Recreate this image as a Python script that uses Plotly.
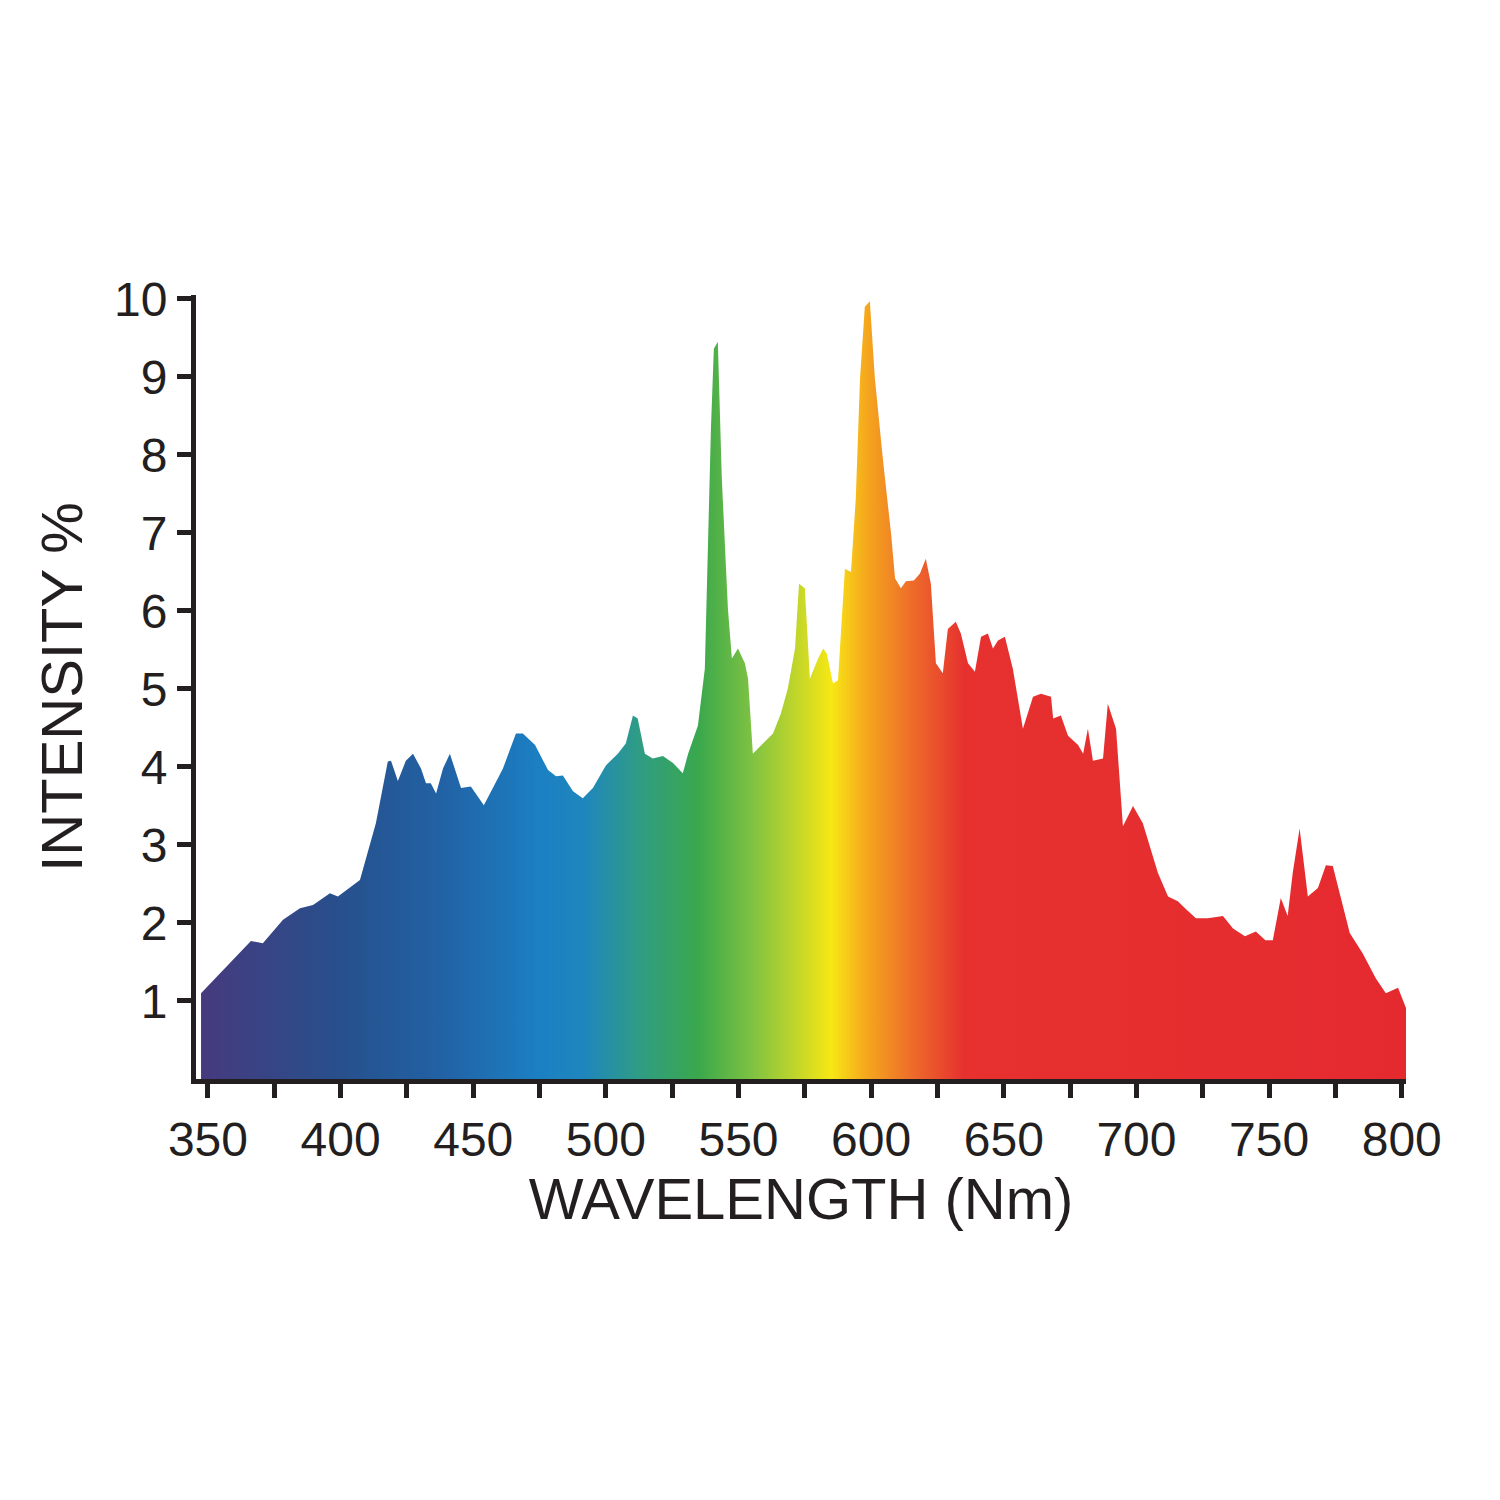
import plotly.graph_objects as go

wavelength = [347.4,366.2,370.7,378.3,384.7,389.6,396,399,407.3,413.3,417.8,419,421.6,424.6,427.3,430.3,432.2,434,436,438.6,441.2,443.1,445.4,449.1,451,454,457.4,461.2,466.1,468.7,473.3,478.2,481.2,483.8,487.6,491.3,495.1,500,504.5,507.5,510.2,512,514.7,517.7,521.5,525.3,529,531,534.7,537.3,539.6,540.7,542.2,543.7,546,547.5,549.8,552.4,553.6,555.4,559.2,563,566,568.6,571.3,572.8,575,576.9,580,581.9,583.3,585.6,587.5,590.1,592.4,594.2,595.8,597.6,599.5,601.4,604.4,607.5,609,611.2,613.1,616.1,618.4,620.6,622.5,624.4,627,628.9,631.9,633.8,636.5,639.1,641.4,644,645.9,647.8,650.4,653.4,657.2,661,664,667.8,668.6,671.5,674.2,678,679.9,681.7,683.6,687.4,689.2,692.3,694.9,698.7,702.4,708.1,711.9,715.6,718.3,722.4,726.9,732.6,736.4,740.9,745,748.6,751.4,754.4,757,758.9,761.5,764.6,768.4,771.4,774,776.6,780.4,785.3,790.2,794,798.6,801.6]
intensity = [1.10,1.77,1.74,2.04,2.19,2.23,2.38,2.34,2.55,3.28,4.07,4.08,3.82,4.08,4.17,3.98,3.79,3.79,3.66,3.98,4.17,3.98,3.73,3.75,3.66,3.51,3.73,3.98,4.43,4.43,4.28,3.96,3.88,3.89,3.69,3.60,3.73,4.02,4.17,4.30,4.66,4.62,4.17,4.11,4.14,4.05,3.92,4.17,4.53,5.26,8.34,9.36,9.45,7.70,6.03,5.39,5.52,5.33,5.13,4.17,4.30,4.43,4.69,5.01,5.52,6.35,6.29,5.13,5.39,5.52,5.45,5.07,5.11,6.54,6.50,7.44,8.98,9.90,9.97,8.98,7.95,6.99,6.42,6.29,6.38,6.39,6.48,6.67,6.35,5.33,5.20,5.77,5.86,5.71,5.33,5.22,5.67,5.71,5.52,5.62,5.67,5.26,4.49,4.90,4.94,4.90,4.62,4.66,4.40,4.28,4.17,4.49,4.08,4.11,4.81,4.49,3.24,3.50,3.28,2.64,2.34,2.28,2.19,2.06,2.06,2.09,1.93,1.83,1.89,1.78,1.78,2.32,2.09,2.64,3.21,2.34,2.45,2.74,2.73,2.38,1.87,1.61,1.29,1.10,1.17,0.91]

x_ticks = list(range(350, 801, 25))
x_labels = [str(v) if v % 50 == 0 else "" for v in x_ticks]
y_ticks = list(range(1, 11))

w0, w1 = 347.4, 801.6
stops = [(347.4,"#463a7e"),(400,"#27508c"),(440,"#2163a6"),(475,"#1b80c3"),(492,"#1f86bd"),(512,"#2f9c86"),(535,"#3aa84c"),(555,"#7ec242"),(572,"#c2d62a"),(585,"#f7e714"),(598,"#f5a81d"),(615,"#ee6d2a"),(635,"#e6312f"),(801.6,"#e52a2f")]
colorscale = [[(w - w0) / (w1 - w0), c] for w, c in stops]

fig = go.Figure(go.Scatter(
    x=wavelength + [w1, w0], y=intensity + [0, 0],
    mode="lines", line=dict(width=0), fill="toself",
    fillgradient=dict(type="horizontal", colorscale=colorscale),
    hoverinfo="skip"))

font = dict(family="Liberation Sans, Arial", size=48, color="#231f20")
fig.update_layout(
    width=1500, height=1500, paper_bgcolor="white", plot_bgcolor="white",
    margin=dict(l=188, r=102, t=287, b=429), showlegend=False, font=font,
    xaxis=dict(range=[345.5, 801.6], tickvals=x_ticks, ticktext=x_labels,
               ticks="outside", ticklen=14, tickwidth=5, tickcolor="#231f20",
               showline=True, linewidth=5, linecolor="#231f20", showgrid=False,
               zeroline=False, title=dict(text="WAVELENGTH (Nm)", standoff=8)),
    yaxis=dict(range=[0, 10.05], tickvals=y_ticks, ticks="outside", ticklen=14,
               tickwidth=5, tickcolor="#231f20", showline=True, linewidth=5,
               linecolor="#231f20", showgrid=False, zeroline=False,
               title=dict(text="INTENSITY %", standoff=14)),
)
fig.write_html("out.html")
